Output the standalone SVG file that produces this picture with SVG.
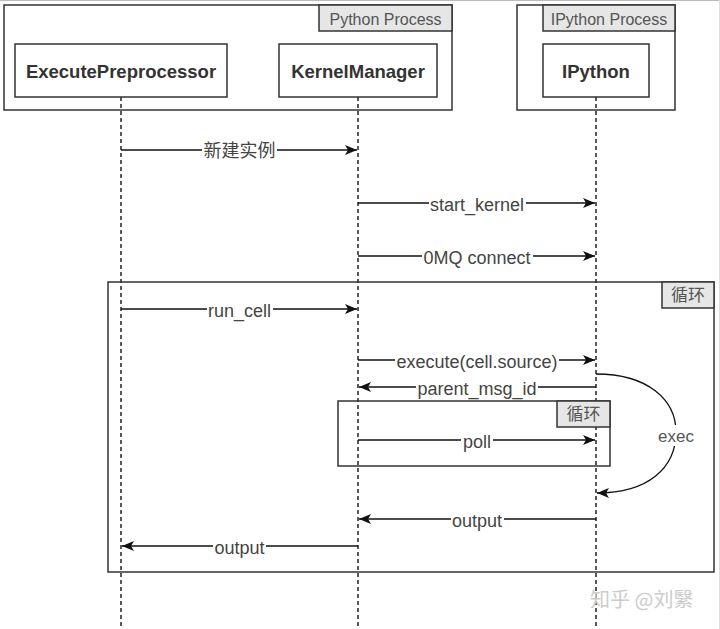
<svg xmlns="http://www.w3.org/2000/svg" width="720" height="629" viewBox="0 0 720 629">
<defs>
<style>
.frame{fill:none;stroke:#333;stroke-width:1.5}
.tab{fill:#e6e6e6;stroke:#333;stroke-width:1.5}
.box{fill:#fff;stroke:#333;stroke-width:1.5}
.life{stroke:#000;stroke-width:1.3;stroke-dasharray:4 3;fill:none}
.msg{stroke:#111;stroke-width:1.3;fill:none;marker-end:url(#arr)}
.bg{fill:#fff}
.node{font-family:"Liberation Sans",Arial,sans-serif;font-weight:bold;font-size:18.5px;fill:#333;text-anchor:middle}
.lbl{font-family:"Liberation Sans","Noto Sans CJK SC",sans-serif;font-size:18px;fill:#444;text-anchor:middle}
.tabt{font-family:"Liberation Sans","Noto Sans CJK SC",sans-serif;font-size:16px;fill:#555;text-anchor:middle}
</style>
<marker id="arr" viewBox="0 0 12 10" refX="12" refY="5" markerWidth="12" markerHeight="10" markerUnits="userSpaceOnUse" orient="auto">
<path d="M0,0 L12,5 L0,10 L3,5 Z" fill="#111"/>
</marker>
</defs>
<rect width="720" height="629" fill="#fff"/>
<line x1="0" y1="0.5" x2="720" y2="0.5" stroke="#bbb" stroke-width="1"/>
<line x1="719.5" y1="0" x2="719.5" y2="629" stroke="#ddd" stroke-width="1"/>

<g id="lifelines">
<line class="life" x1="121" y1="97" x2="121" y2="629"/>
<line class="life" x1="358" y1="97" x2="358" y2="629"/>
<line class="life" x1="596" y1="97" x2="596" y2="629"/>
</g>

<g id="python-process">
<rect class="frame" x="4" y="5" width="448" height="105"/>
<rect class="tab" x="319" y="5" width="133" height="26"/>
<text class="tabt" x="385.5" y="24.5">Python Process</text>
</g>
<g id="ipython-process">
<rect class="frame" x="517" y="5" width="158" height="105"/>
<rect class="tab" x="543" y="5" width="132" height="26"/>
<text class="tabt" x="609" y="24.5">IPython Process</text>
</g>

<g id="ExecutePreprocessor">
<rect class="box" x="15" y="44" width="212" height="53"/>
<text class="node" x="121" y="78">ExecutePreprocessor</text>
</g>
<g id="KernelManager">
<rect class="box" x="279" y="44" width="158" height="53"/>
<text class="node" x="358" y="78">KernelManager</text>
</g>
<g id="IPython">
<rect class="box" x="543" y="44" width="106" height="53"/>
<text class="node" x="596" y="78">IPython</text>
</g>

<g id="loop-outer">
<rect class="frame" x="108" y="282" width="606" height="290"/>
<rect class="tab" x="662" y="282" width="52" height="26"/>
<text class="tabt" x="688" y="301" style="font-size:17px">循环</text>
</g>
<g id="loop-inner">
<rect class="frame" x="338" y="401" width="272" height="65"/>
<rect class="tab" x="557" y="401" width="53" height="26"/>
<text class="tabt" x="583.5" y="420" style="font-size:17px">循环</text>
</g>

<g id="connectors">
<line class="msg" x1="121" y1="150" x2="357" y2="150"/>
<rect class="bg" x="202" y="140" width="75" height="21"/>
<text class="lbl" x="239.5" y="157">新建实例</text>

<line class="msg" x1="358" y1="203" x2="595" y2="203"/>
<rect class="bg" x="429" y="193" width="97" height="21"/>
<text class="lbl" x="477" y="210.5">start_kernel</text>

<line class="msg" x1="358" y1="256" x2="595" y2="256"/>
<rect class="bg" x="422" y="246" width="111" height="21"/>
<text class="lbl" x="477" y="263.5">0MQ connect</text>

<line class="msg" x1="121" y1="309" x2="357" y2="309"/>
<rect class="bg" x="207" y="299" width="66" height="21"/>
<text class="lbl" x="239.5" y="316.5">run_cell</text>

<line class="msg" x1="358" y1="360" x2="595" y2="360"/>
<rect class="bg" x="395" y="350" width="164" height="21"/>
<text class="lbl" x="477" y="367.5">execute(cell.source)</text>

<line class="msg" x1="596" y1="387" x2="359" y2="387"/>
<rect class="bg" x="416" y="377" width="122" height="21"/>
<text class="lbl" x="477" y="394.5">parent_msg_id</text>

<line class="msg" x1="358" y1="440" x2="595" y2="440"/>
<rect class="bg" x="461" y="430" width="32" height="21"/>
<text class="lbl" x="477" y="447.5">poll</text>

<path class="msg" d="M596,374 C648,374 676,400 676,432 C676,468 648,493 597,493"/>
<rect class="bg" x="656" y="425" width="40" height="21"/>
<text class="lbl" x="676" y="442" style="font-size:17px;fill:#555">exec</text>

<line class="msg" x1="596" y1="519" x2="359" y2="519"/>
<rect class="bg" x="451" y="509" width="53" height="21"/>
<text class="lbl" x="477" y="526.5">output</text>

<line class="msg" x1="358" y1="546" x2="122" y2="546"/>
<rect class="bg" x="213" y="536" width="53" height="21"/>
<text class="lbl" x="239.5" y="553.5">output</text>
</g>

<text x="590" y="607" style="font-family:'Noto Sans CJK SC',sans-serif;font-size:20px;fill:#ccc">知乎 @刘繄</text>
</svg>
